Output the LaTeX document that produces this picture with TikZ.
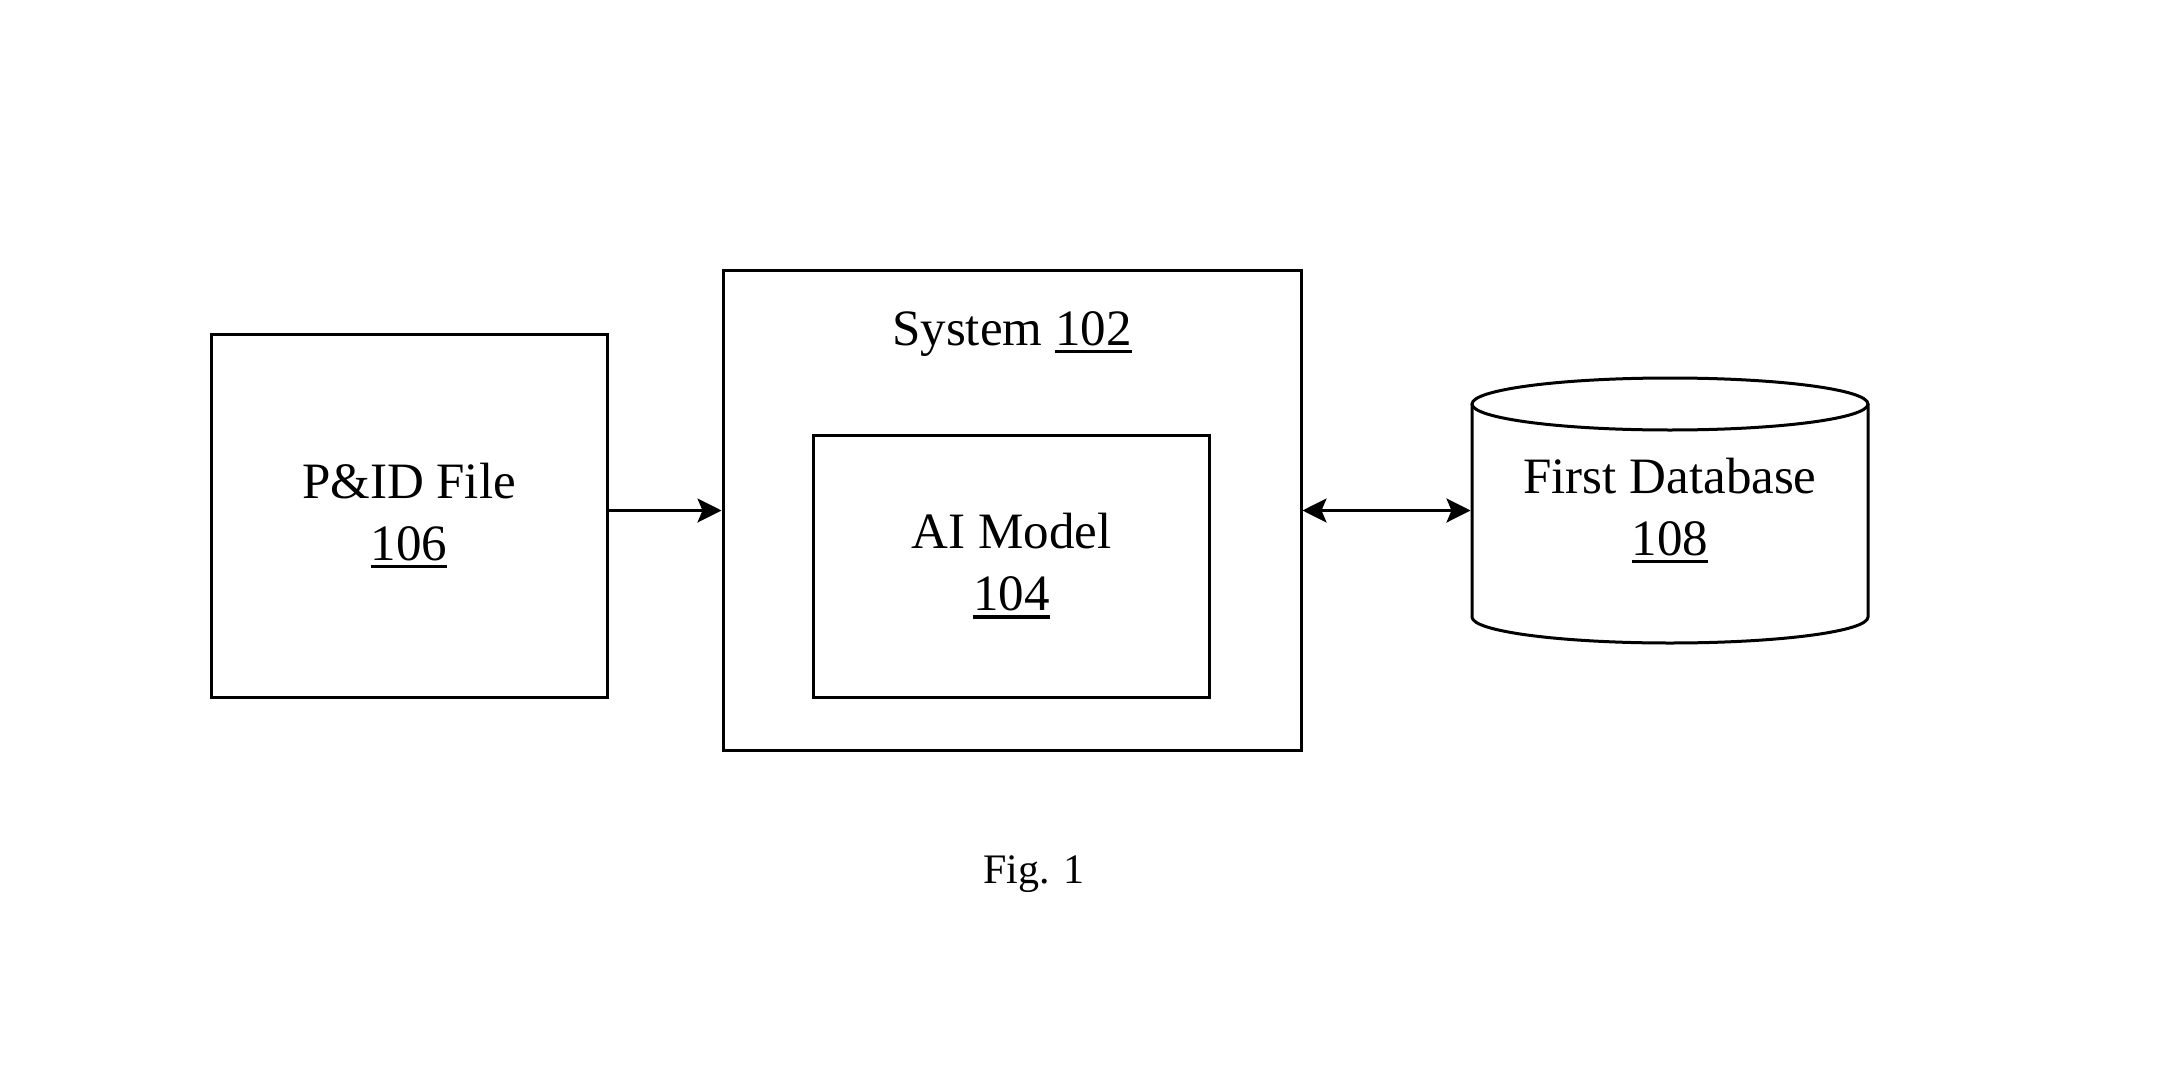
\documentclass[tikz,border=0pt]{standalone}
\usepackage{fontspec}
\setmainfont{Liberation Serif}
\usetikzlibrary{arrows.meta}
\newcommand\refnum[1]{\leavevmode\vtop{\hbox{#1}\kern4pt\hrule height 3.2pt}}
\begin{document}
\begin{tikzpicture}[x=1pt,y=-1pt,
  boxnode/.style={draw, line width=3pt, rectangle, inner sep=0pt, align=center,
    font=\fontsize{51}{62}\selectfont},
  txt/.style={inner sep=0pt, font=\fontsize{51}{62}\selectfont},
  arr/.style={line width=3pt, -{Stealth[length=24pt,width=24pt,inset=5pt]}},
  biarr/.style={line width=3pt, {Stealth[length=24pt,width=24pt,inset=5pt]}-{Stealth[length=24pt,width=24pt,inset=5pt]}}]
\useasboundingbox (0,0) rectangle (2173,1070);
\node[boxnode, minimum width=396pt, minimum height=363pt] (pid) at (409,515.5) {P\&ID File\\\refnum{106}};
\node[boxnode, minimum width=578pt, minimum height=480pt] (sys) at (1012,510) {};
\node[txt, anchor=base] (syslabel) at (1012,345) {System \refnum{102}};
\node[boxnode, minimum width=396pt, minimum height=262pt] (ai) at (1011.5,566) {AI Model\\\refnum{104}};
\node[boxnode, draw=none, minimum width=396pt, minimum height=265pt] (db) at (1670,510.5) {First Database\\\refnum{108}};
\draw[line width=3pt] (1670,404) ellipse[x radius=198pt, y radius=26pt];
\draw[line width=3pt] (1472,404) -- (1472,617) arc[start angle=180, end angle=360, x radius=198pt, y radius=26pt] -- (1868,404);
\draw[arr] (pid.east |- db.west) -- (sys.west |- db.west);
\draw[biarr] (sys.east |- db.west) -- (db.west);
\node[inner sep=0pt, anchor=base, font=\fontsize{42}{50}\selectfont] (fig) at (1034,883) {Fig. 1};
\end{tikzpicture}
\end{document}
